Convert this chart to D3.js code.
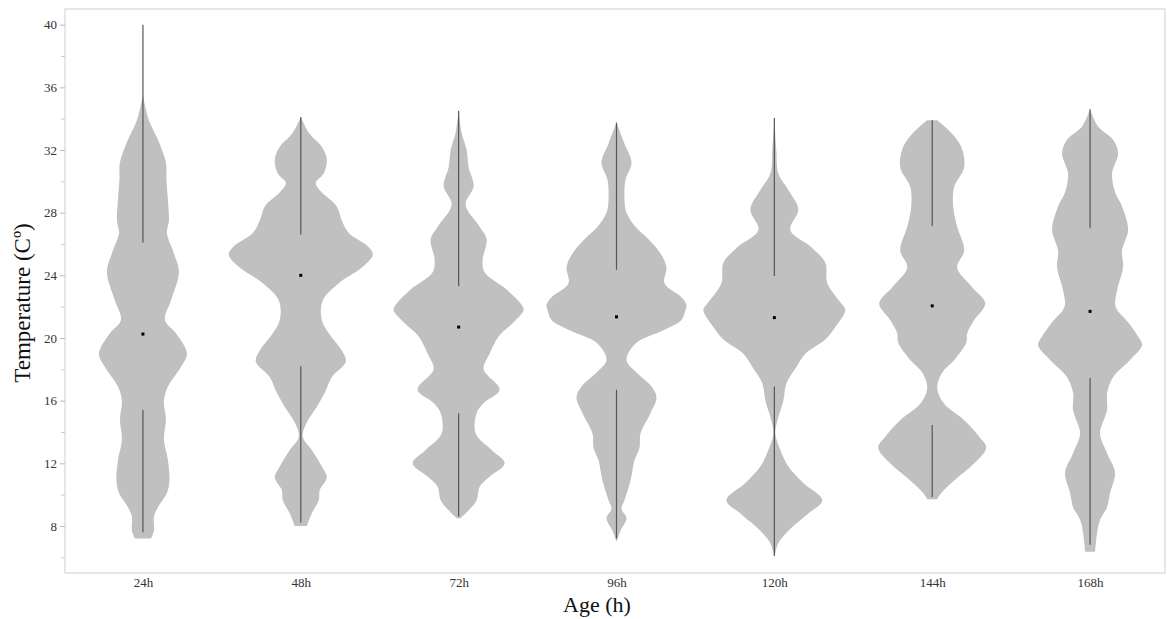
<!DOCTYPE html>
<html>
<head>
<meta charset="utf-8">
<script src="https://cdn.jsdelivr.net/npm/d3@7/dist/d3.min.js"></script>
<style>
  html, body { margin: 0; padding: 0; background: #fff; }
  svg { display: block; }
</style>
</head>
<body>
<svg id="chart" width="1167" height="619"></svg>
<script>
// ---------- DATA ----------
const categories = ["24h", "48h", "72h", "96h", "120h", "144h", "168h"];

// kernel density profiles: [temperature, density]
const density24h = [[35.5,0],[33.9,0.006],[32.65,0.015],[31.2,0.023],[30.1,0.0235],[28.8,0.025],[27.5,0.026],[26.7,0.024],[25.4,0.031],[24.2,0.036],[22.4,0.028],[21.15,0.022],[20.3,0.033],[19.0,0.044],[18.15,0.038],[16.9,0.025],[16.0,0.021],[14.8,0.023],[13.5,0.021],[12.2,0.025],[10.9,0.0265],[10.1,0.024],[9.2,0.015],[8.6,0.011],[7.7,0.011],[7.2,0.008]];
const density48h = [[34.1,0],[33.1,0.008],[32.2,0.021],[31.4,0.026],[30.5,0.023],[29.9,0.015],[29.3,0.021],[28.4,0.036],[27.5,0.041],[26.7,0.048],[25.8,0.068],[25.3,0.072],[24.5,0.061],[23.5,0.038],[22.4,0.022],[21.15,0.021],[20.3,0.028],[19.2,0.041],[18.5,0.045],[17.5,0.031],[16.5,0.024],[15.6,0.016],[14.6,0.006],[13.7,0.002],[12.85,0.011],[11.8,0.021],[11.1,0.026],[10.3,0.019],[9.65,0.018],[8.8,0.011],[8.0,0.006]];
const density72h = [[34.5,0],[33.1,0.003],[32.0,0.008],[30.9,0.010],[29.7,0.015],[28.5,0.007],[27.1,0.021],[26.3,0.028],[25.0,0.024],[24.2,0.026],[23.1,0.048],[22.2,0.062],[21.8,0.065],[21.0,0.055],[20.1,0.040],[19.0,0.031],[18.0,0.025],[16.7,0.041],[15.85,0.025],[15.2,0.018],[13.9,0.017],[12.85,0.033],[12.0,0.046],[11.1,0.030],[10.5,0.021],[9.65,0.018],[9.0,0.010],[8.5,0.002]];
const density96h = [[33.75,0],[32.4,0.008],[31.2,0.015],[30.1,0.009],[28.8,0.008],[28.0,0.010],[27.1,0.019],[26.3,0.032],[25.4,0.044],[24.5,0.050],[23.5,0.048],[22.6,0.065],[22.1,0.070],[21.8,0.069],[21.15,0.065],[20.5,0.047],[19.7,0.020],[18.6,0.010],[17.8,0.020],[16.9,0.035],[16.2,0.040],[15.2,0.034],[13.9,0.024],[13.0,0.023],[12.2,0.018],[10.9,0.014],[9.65,0.008],[9.1,0.005],[8.5,0.010],[7.7,0.004],[7.0,0]];
const density120h = [[34.05,0],[32.0,0.002],[30.5,0.004],[29.45,0.014],[28.2,0.024],[26.9,0.016],[25.8,0.037],[24.8,0.051],[23.5,0.053],[22.2,0.067],[21.8,0.071],[20.7,0.061],[19.9,0.051],[19.0,0.031],[18.15,0.022],[17.1,0.012],[16.0,0.009],[14.95,0.004],[13.9,0.001],[12.85,0.006],[11.8,0.014],[10.75,0.029],[9.65,0.048],[8.8,0.034],[7.7,0.014],[6.9,0.004],[6.0,0]];
const density144h = [[33.9,0.005],[33.1,0.019],[32.2,0.029],[30.9,0.032],[29.65,0.022],[28.4,0.021],[27.1,0.025],[25.6,0.032],[24.5,0.025],[23.3,0.039],[22.2,0.053],[21.15,0.042],[20.3,0.035],[19.7,0.034],[18.6,0.022],[17.8,0.010],[16.8,0.005],[15.8,0.012],[14.75,0.032],[13.7,0.047],[13.0,0.054],[12.0,0.042],[10.9,0.022],[10.1,0.009],[9.7,0.005]];
const density168h = [[34.6,0],[33.5,0.008],[32.65,0.023],[31.8,0.028],[30.5,0.022],[29.3,0.025],[28.4,0.032],[26.9,0.038],[25.6,0.032],[24.5,0.033],[23.3,0.028],[22.2,0.025],[21.8,0.027],[21.0,0.038],[20.1,0.048],[19.55,0.052],[18.6,0.040],[17.5,0.023],[16.5,0.017],[15.4,0.017],[13.9,0.010],[12.65,0.017],[11.4,0.025],[10.1,0.020],[9.2,0.017],[8.4,0.010],[7.55,0.007],[6.35,0.005]];

// summary statistics
const minima  = [7.6, 8.2, 8.6, 7.2, 6.1, 9.85, 6.8];
const q1      = [15.4, 18.2, 15.2, 16.7, 16.9, 14.45, 17.45];
const medians = [20.25, 24.0, 20.7, 21.35, 21.3, 22.05, 21.7];
const q3      = [26.1, 26.6, 23.3, 24.35, 23.95, 27.15, 27.0];
const maxima  = [40.0, 34.1, 34.5, 33.75, 34.05, 33.9, 34.6];

const yMajorTicks = [8, 12, 16, 20, 24, 28, 32, 36, 40];
const yMinorTicks = [6, 10, 14, 18, 22, 26, 30, 34, 38];

const densities = [density24h, density48h, density72h, density96h, density120h, density144h, density168h];

// ---------- CHART ----------
const svg = d3.select("#chart");
const plot = { left: 65, right: 1165, top: 9, bottom: 573 };

const x = d3.scaleBand().domain(categories).range([64, 1169]).padding(0);
const cx = c => x(c) + x.bandwidth() / 2;
const y = d3.scaleLinear().domain([5, 41]).range([plot.bottom, plot.top]);
const w = d3.scaleLinear().domain([0, 0.072]).range([0, 72]);

const serif = "'Liberation Serif', 'Times New Roman', serif";

// frame
svg.append("rect")
  .attr("x", plot.left).attr("y", plot.top)
  .attr("width", plot.right - plot.left).attr("height", plot.bottom - plot.top)
  .attr("fill", "none").attr("stroke", "#cfcfcf").attr("stroke-width", 1);

// violins
const g = svg.append("g");
categories.forEach((c, i) => {
  const center = cx(c);
  const area = d3.area()
    .curve(d3.curveCatmullRom.alpha(0.5))
    .y(d => y(d[0]))
    .x0(d => center - w(d[1]))
    .x1(d => center + w(d[1]));
  g.append("path")
    .datum(densities[i])
    .attr("d", area)
    .attr("fill", "#c0c0c0")
    .attr("stroke", "none");

  // whiskers
  g.append("line")
    .attr("x1", center).attr("x2", center)
    .attr("y1", y(maxima[i])).attr("y2", y(q3[i]))
    .attr("stroke", "#555").attr("stroke-width", 1.2);
  g.append("line")
    .attr("x1", center).attr("x2", center)
    .attr("y1", y(q1[i])).attr("y2", y(minima[i]))
    .attr("stroke", "#555").attr("stroke-width", 1.2);
  // median
  g.append("rect")
    .attr("x", center - 1.5).attr("y", y(medians[i]) - 1.5)
    .attr("width", 3).attr("height", 3)
    .attr("fill", "#000");
});

// y axis
const yAxis = d3.axisLeft(y).tickValues(yMajorTicks).tickSize(5).tickPadding(3).tickFormat(d3.format("d"));
const ya = svg.append("g").attr("transform", `translate(${plot.left},0)`).call(yAxis);
ya.select(".domain").remove();
ya.selectAll(".tick line").attr("stroke", "#bbb");
ya.selectAll(".tick text").attr("font-family", serif).attr("font-size", 13).attr("fill", "#333");
const yMinor = d3.axisLeft(y).tickValues(yMinorTicks).tickSize(4).tickFormat("");
const ym = svg.append("g").attr("transform", `translate(${plot.left},0)`).call(yMinor);
ym.select(".domain").remove();
ym.selectAll(".tick line").attr("stroke", "#ccc");

// x axis labels
const xAxis = d3.axisBottom(d3.scalePoint().domain(categories).range([cx(categories[0]), cx(categories[categories.length-1])]))
  .tickSize(0).tickPadding(5);
const xa = svg.append("g").attr("transform", `translate(0,${plot.bottom})`).call(xAxis);
xa.select(".domain").remove();
xa.selectAll(".tick text").attr("font-family", serif).attr("font-size", 13).attr("fill", "#333");

// titles
svg.append("text")
  .attr("x", 597).attr("y", 612)
  .attr("text-anchor", "middle")
  .attr("font-family", serif).attr("font-size", 22).attr("fill", "#111")
  .text("Age (h)");
svg.append("text")
  .attr("transform", "translate(30,303) rotate(-90)")
  .attr("text-anchor", "middle")
  .attr("font-family", serif).attr("font-size", 23).attr("fill", "#111")
  .text("Temperature (Cº)");
</script>
</body>
</html>
